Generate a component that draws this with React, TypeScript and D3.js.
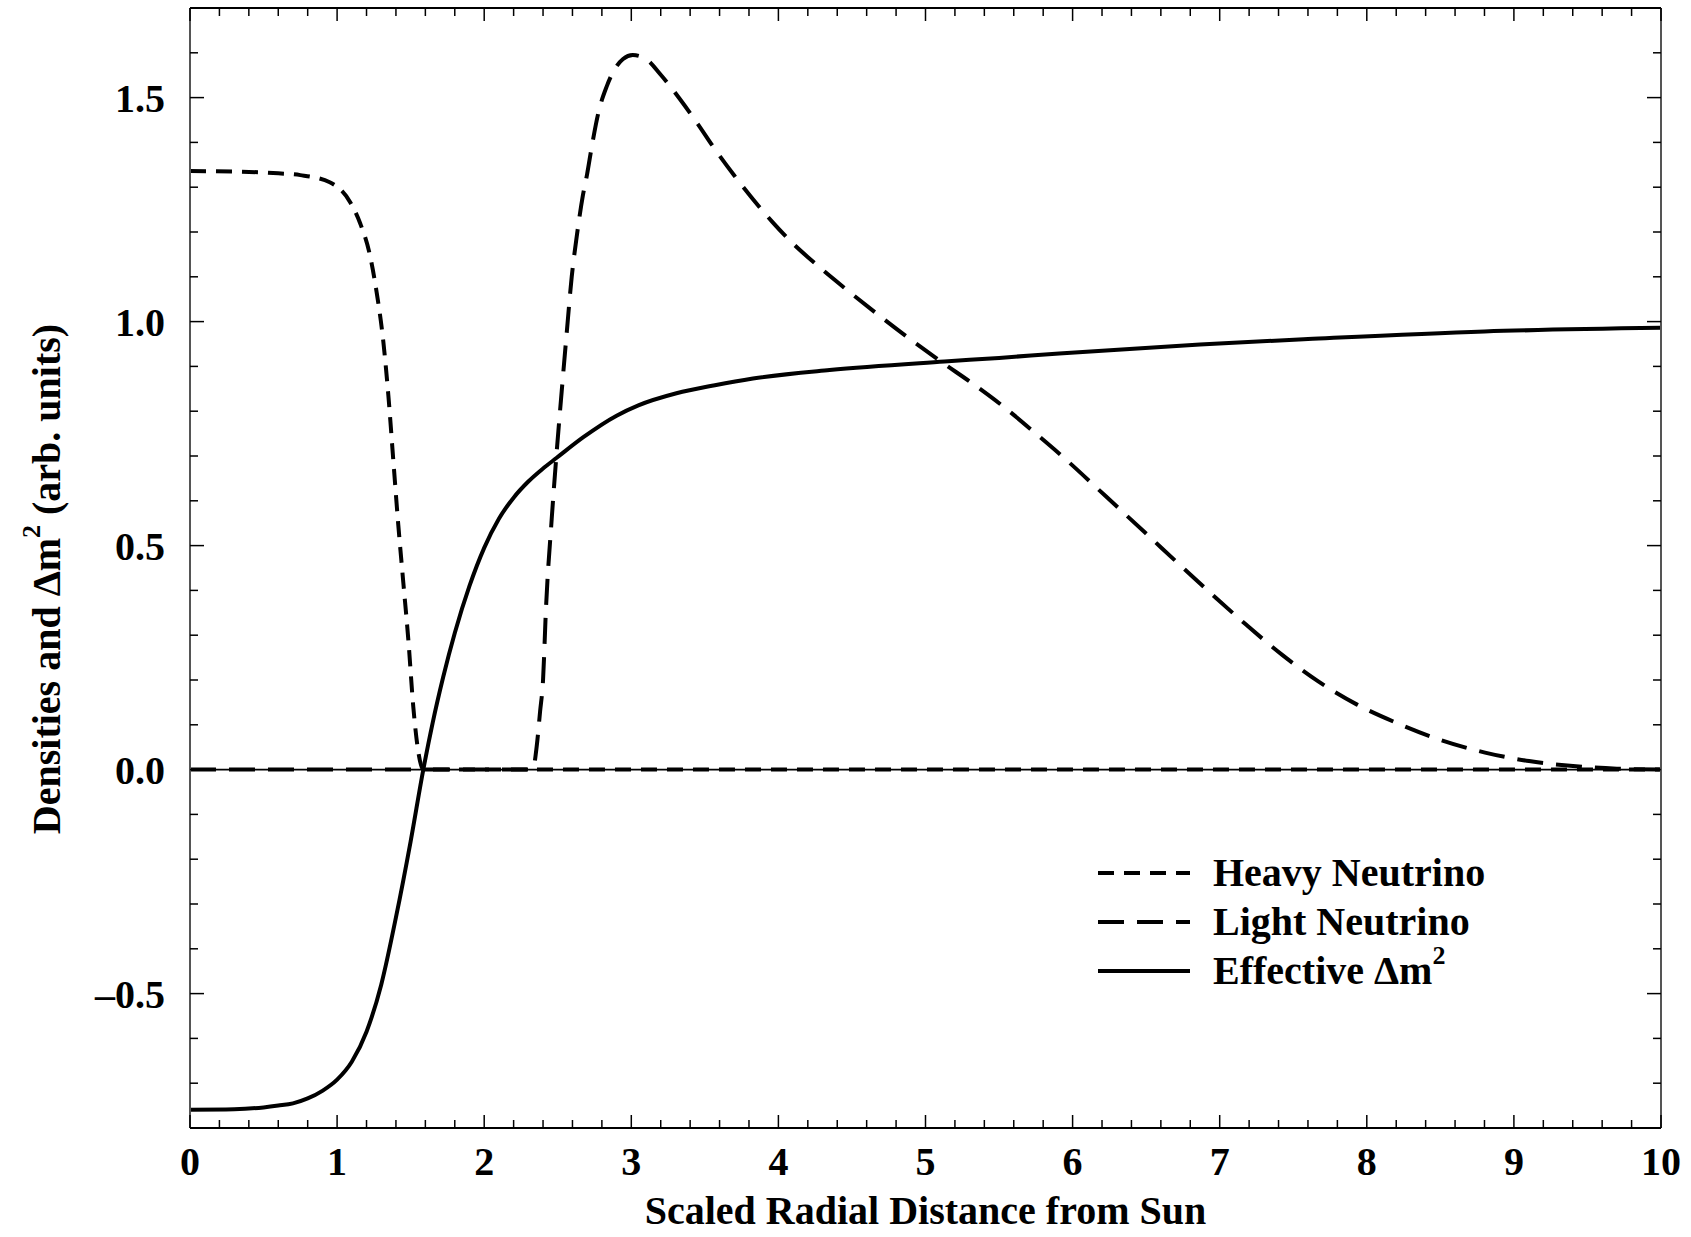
import React from "react";
import * as d3 from "d3";

// ---- data ----
const heavyNeutrino: [number, number][] = [
  [0, 1.336], [0.3, 1.335], [0.6, 1.331], [0.75, 1.327], [0.95, 1.311],
  [1.09, 1.266], [1.156, 1.22], [1.224, 1.147], [1.269, 1.065], [1.314, 0.956],
  [1.348, 0.837], [1.382, 0.691], [1.416, 0.546], [1.45, 0.418], [1.484, 0.291],
  [1.518, 0.14], [1.552, 0.04], [1.575, 0.006], [1.59, 0], [3, 0], [6, 0], [10, 0],
];

const lightNeutrino: [number, number][] = [
  [0, 0], [1, 0], [2, 0], [2.3, 0], [2.334, 0.005], [2.357, 0.052], [2.38, 0.13],
  [2.4, 0.2], [2.42, 0.36], [2.459, 0.56], [2.493, 0.71], [2.527, 0.845],
  [2.561, 0.975], [2.595, 1.1], [2.629, 1.19], [2.67, 1.28], [2.7, 1.33],
  [2.731, 1.39], [2.776, 1.466], [2.833, 1.525], [2.9, 1.57], [2.944, 1.586],
  [3.01, 1.595], [3.1, 1.586], [3.2, 1.551], [3.33, 1.497], [3.45, 1.442],
  [3.57, 1.384], [3.7, 1.326], [3.83, 1.272], [3.96, 1.222], [4.09, 1.177],
  [4.27, 1.124], [4.45, 1.075], [4.66, 1.02], [4.87, 0.967], [5.1, 0.912],
  [5.34, 0.857], [5.55, 0.805], [5.75, 0.75], [5.955, 0.692], [6.226, 0.61],
  [6.496, 0.528], [6.765, 0.446], [6.975, 0.383], [7.185, 0.322], [7.425, 0.256],
  [7.665, 0.198], [7.934, 0.145], [8.204, 0.104], [8.504, 0.066], [8.804, 0.038],
  [9.103, 0.019], [9.402, 0.008], [9.7, 0.002], [10, 0],
];

const effectiveDm2: [number, number][] = [
  [0, -0.759], [0.3, -0.758], [0.5, -0.754], [0.6, -0.75], [0.7, -0.745],
  [0.8, -0.734], [0.9, -0.717], [1.0, -0.692], [1.1, -0.652], [1.2, -0.585],
  [1.3, -0.48], [1.4, -0.33], [1.5, -0.16], [1.586, 0], [1.65, 0.105],
  [1.72, 0.205], [1.8, 0.305], [1.9, 0.41], [2.0, 0.495], [2.1, 0.56],
  [2.2, 0.607], [2.3, 0.643], [2.4, 0.672], [2.493, 0.696], [2.674, 0.742],
  [2.9, 0.79], [3.048, 0.813], [3.307, 0.84], [3.568, 0.858], [3.827, 0.873],
  [4.348, 0.892], [5.129, 0.911], [5.5, 0.919], [5.909, 0.929], [6.866, 0.949],
  [7.6, 0.961], [8.8, 0.978], [10, 0.986],
];

const xTickValues = [0, 1, 2, 3, 4, 5, 6, 7, 8, 9, 10];
const xTickLabels = ["0", "1", "2", "3", "4", "5", "6", "7", "8", "9", "10"];
const yTickValues = [-0.5, 0, 0.5, 1.0, 1.5];
const yTickLabels = ["\u20130.5", "0.0", "0.5", "1.0", "1.5"];

const legendLabels = ["Heavy Neutrino", "Light Neutrino", "Effective \u0394m"];

const W = 1691;
const H = 1237;
const L = 190, R = 1661, T = 8, B = 1128;
const FONT = "'Liberation Serif', 'Times New Roman', serif";

export default function App() {
  const x = d3.scaleLinear().domain([0, 10]).range([L, R]);
  const y = d3.scaleLinear().domain([-0.8, 1.7]).range([B, T]);

  const line = d3
    .line<[number, number]>()
    .x((d) => x(d[0]))
    .y((d) => y(d[1]))
    .curve(d3.curveMonotoneX);

  const xMinor = d3.range(0, 10.0001, 0.2);
  const yMinor = d3.range(-0.8, 1.7001, 0.1);
  const isMajorX = (v: number) => Math.abs(v - Math.round(v)) < 1e-6;
  const isMajorY = (v: number) => Math.abs(v * 2 - Math.round(v * 2)) < 1e-6;

  const series = [
    { data: heavyNeutrino, dash: "16,10" },
    { data: lightNeutrino, dash: "26,13" },
    { data: effectiveDm2, dash: "none" },
  ];

  const legendX0 = 1098, legendX1 = 1190, legendTextX = 1213;
  const legendBaselines = [886, 935, 984];

  return (
    <svg
      width={W}
      height={H}
      style={{ position: "absolute", left: 0, top: 0, display: "block", background: "#fff" }}
      fontFamily={FONT}
      fontWeight="bold"
    >
      <rect x={0} y={0} width={W} height={H} fill="#fff" />

      {/* zero line */}
      <line x1={L} x2={R} y1={y(0)} y2={y(0)} stroke="#000" strokeWidth={1.6} />

      {/* curves */}
      {series.map((s, i) => (
        <path
          key={i}
          d={line(s.data) || ""}
          fill="none"
          stroke="#000"
          strokeWidth={4}
          strokeDasharray={s.dash}
          strokeLinejoin="round"
        />
      ))}

      {/* frame */}
      <line x1={L} x2={R} y1={T} y2={T} stroke="#000" strokeWidth={2} />
      <line x1={L} x2={R} y1={B} y2={B} stroke="#000" strokeWidth={2} />
      <line x1={L} x2={L} y1={T} y2={B} stroke="#555" strokeWidth={2} />
      <line x1={R} x2={R} y1={T} y2={B} stroke="#555" strokeWidth={2} />

      {/* x ticks (bottom and top, inward) */}
      {xMinor.map((v, i) => {
        const len = isMajorX(v) ? 13 : 8;
        return (
          <g key={"xt" + i}>
            <line x1={x(v)} x2={x(v)} y1={B} y2={B - len} stroke="#000" strokeWidth={1.5} />
            <line x1={x(v)} x2={x(v)} y1={T} y2={T + len} stroke="#000" strokeWidth={1.5} />
          </g>
        );
      })}

      {/* y ticks (left and right, inward) */}
      {yMinor.map((v, i) => {
        const len = isMajorY(v) ? 14 : 8;
        return (
          <g key={"yt" + i}>
            <line x1={L} x2={L + len} y1={y(v)} y2={y(v)} stroke="#000" strokeWidth={1.5} />
            <line x1={R} x2={R - len} y1={y(v)} y2={y(v)} stroke="#000" strokeWidth={1.5} />
          </g>
        );
      })}

      {/* x tick labels */}
      {xTickValues.map((v, i) => (
        <text key={"xl" + i} x={x(v)} y={1175} fontSize={40} textAnchor="middle" fill="#000">
          {xTickLabels[i]}
        </text>
      ))}

      {/* y tick labels */}
      {yTickValues.map((v, i) => (
        <text key={"yl" + i} x={165} y={y(v) + 14} fontSize={40} textAnchor="end" fill="#000">
          {yTickLabels[i]}
        </text>
      ))}

      {/* axis titles */}
      <text x={(L + R) / 2} y={1224} fontSize={40} textAnchor="middle" fill="#000">
        Scaled Radial Distance from Sun
      </text>
      <text
        transform={`translate(60, ${(T + B) / 2 + 11}) rotate(-90)`}
        fontSize={40}
        textAnchor="middle"
        fill="#000"
      >
        <tspan>Densities and {"\u0394"}m</tspan>
        <tspan fontSize={26} dy={-20}>2</tspan>
        <tspan dy={20}> (arb. units)</tspan>
      </text>

      {/* legend */}
      {series.map((s, i) => (
        <g key={"lg" + i}>
          <line
            x1={legendX0}
            x2={legendX1}
            y1={legendBaselines[i] - 13}
            y2={legendBaselines[i] - 13}
            stroke="#000"
            strokeWidth={4}
            strokeDasharray={s.dash}
          />
          <text x={legendTextX} y={legendBaselines[i]} fontSize={40} fill="#000">
            {legendLabels[i]}
            {i === 2 ? (
              <tspan fontSize={26} dy={-20}>2</tspan>
            ) : null}
          </text>
        </g>
      ))}
    </svg>
  );
}
